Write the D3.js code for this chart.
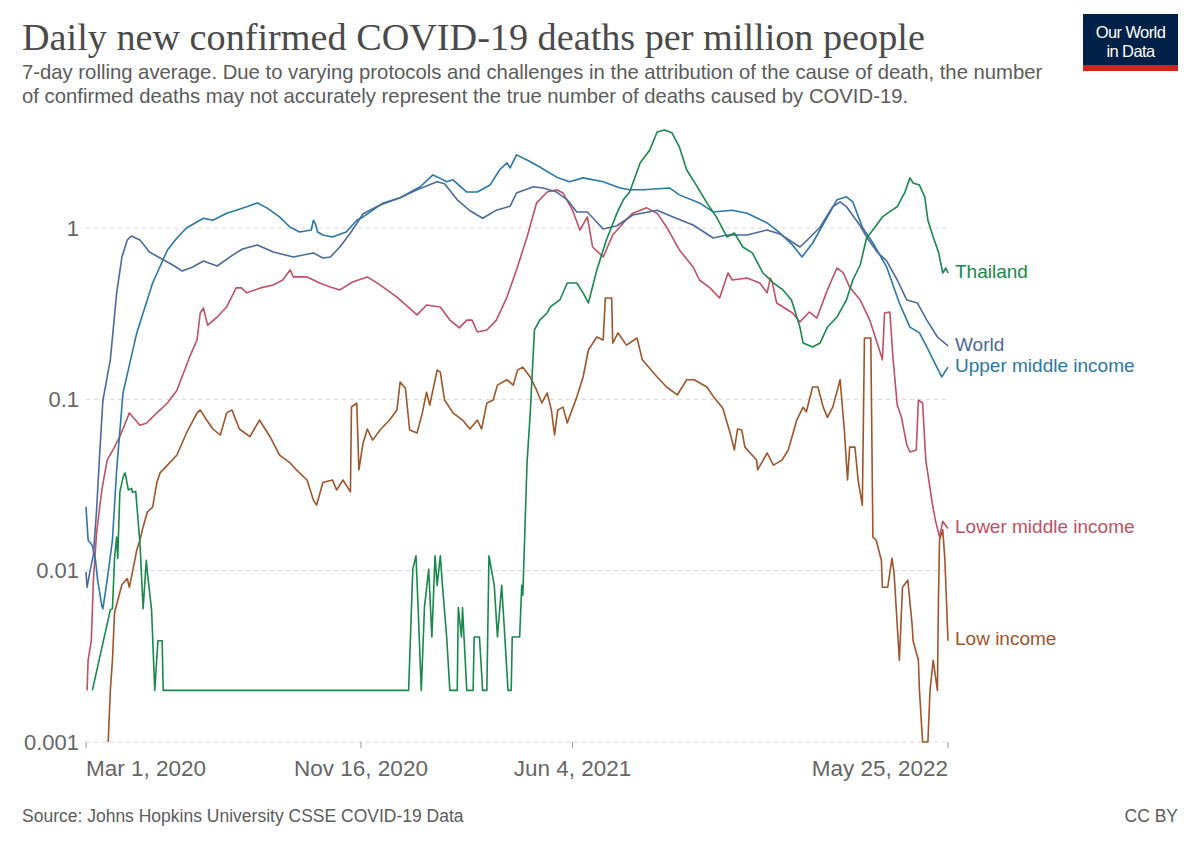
<!DOCTYPE html>
<html><head><meta charset="utf-8">
<script src="https://cdn.jsdelivr.net/npm/d3@7"></script>
<style>
body{margin:0;background:#fff}
svg text{font-family:"Liberation Sans",Arial,sans-serif}
</style>
</head><body>
<svg id="chart" width="1200" height="847"></svg>
<script>
const seriesNames = ["Thailand","World","Upper middle income","Lower middle income","Low income"];

const worldData = [["2020-03-01",0.0098],["2020-03-02",0.0080],["2020-03-05",0.0101],["2020-03-08",0.0124],["2020-03-11",0.0226],["2020-03-14",0.049],["2020-03-17",0.099],["2020-03-24",0.170],["2020-03-30",0.418],["2020-04-04",0.677],["2020-04-09",0.851],["2020-04-13",0.898],["2020-04-21",0.851],["2020-04-30",0.724],["2020-05-10",0.668],["2020-05-22",0.608],["2020-05-31",0.561],["2020-06-10",0.592],["2020-06-20",0.642],["2020-07-03",0.600],["2020-07-18",0.696],["2020-07-27",0.754],["2020-08-10",0.796],["2020-08-25",0.724],["2020-09-13",0.677],["2020-10-02",0.715],["2020-10-11",0.668],["2020-10-18",0.677],["2020-10-27",0.774],["2020-11-06",0.935],["2020-11-18",1.21],["2020-12-04",1.36],["2020-12-23",1.50],["2021-01-08",1.67],["2021-01-27",1.86],["2021-02-03",1.81],["2021-02-15",1.46],["2021-02-27",1.26],["2021-03-11",1.14],["2021-03-24",1.27],["2021-04-06",1.34],["2021-04-12",1.60],["2021-04-28",1.74],["2021-05-07",1.71],["2021-05-20",1.62],["2021-05-30",1.46],["2021-06-08",1.24],["2021-06-18",1.24],["2021-07-03",0.987],["2021-07-16",1.03],["2021-07-31",1.19],["2021-08-23",1.27],["2021-09-07",1.16],["2021-09-26",1.04],["2021-10-15",0.874],["2021-10-28",0.910],["2021-11-16",0.910],["2021-12-05",0.973],["2021-12-17",0.923],["2022-01-05",0.774],["2022-01-12",0.851],["2022-01-24",1.01],["2022-02-05",1.33],["2022-02-12",1.42],["2022-02-18",1.33],["2022-03-03",1.03],["2022-03-09",0.886],["2022-03-19",0.724],["2022-03-28",0.642],["2022-04-07",0.497],["2022-04-16",0.380],["2022-04-26",0.365],["2022-05-05",0.290],["2022-05-15",0.231],["2022-05-25",0.205]];

const upperMiddleData = [["2020-03-01",0.0236],["2020-03-03",0.0151],["2020-03-07",0.014],["2020-03-10",0.0115],["2020-03-12",0.0088],["2020-03-16",0.0062],["2020-03-17",0.0060],["2020-03-21",0.0088],["2020-03-26",0.0151],["2020-03-30",0.0387],["2020-04-05",0.109],["2020-04-18",0.244],["2020-05-03",0.477],["2020-05-17",0.744],["2020-05-26",0.874],["2020-06-04",1.0],["2020-06-20",1.14],["2020-06-29",1.11],["2020-07-12",1.22],["2020-07-21",1.27],["2020-07-31",1.33],["2020-08-10",1.40],["2020-08-19",1.31],["2020-08-31",1.16],["2020-09-10",1.01],["2020-09-19",0.948],["2020-09-30",0.973],["2020-10-02",1.11],["2020-10-04",1.05],["2020-10-06",0.948],["2020-10-11",0.91],["2020-10-20",0.886],["2020-11-02",0.948],["2020-11-12",1.11],["2020-11-18",1.16],["2020-12-07",1.40],["2020-12-23",1.50],["2021-01-11",1.74],["2021-01-23",2.04],["2021-01-29",1.96],["2021-02-05",1.86],["2021-02-11",1.91],["2021-02-24",1.62],["2021-03-06",1.62],["2021-03-18",1.78],["2021-03-27",2.18],["2021-04-03",2.40],["2021-04-06",2.24],["2021-04-12",2.67],["2021-04-22",2.49],["2021-05-04",2.27],["2021-05-20",1.98],["2021-06-01",1.86],["2021-06-14",1.96],["2021-07-03",1.86],["2021-07-19",1.71],["2021-07-28",1.67],["2021-08-10",1.67],["2021-09-04",1.71],["2021-09-13",1.56],["2021-10-02",1.40],["2021-10-15",1.24],["2021-11-02",1.27],["2021-11-16",1.22],["2021-12-05",1.07],["2021-12-17",0.935],["2021-12-29",0.796],["2022-01-07",0.677],["2022-01-17",0.817],["2022-01-31",1.16],["2022-02-09",1.46],["2022-02-18",1.52],["2022-02-24",1.42],["2022-03-05",1.01],["2022-03-15",0.817],["2022-03-28",0.592],["2022-04-09",0.365],["2022-04-19",0.264],["2022-04-28",0.244],["2022-05-05",0.202],["2022-05-11",0.170],["2022-05-19",0.135],["2022-05-25",0.154]];

const lowerMiddleData = [["2020-03-02",0.0020],["2020-03-03",0.0030],["2020-03-06",0.0039],["2020-03-08",0.0088],["2020-03-11",0.0167],["2020-03-16",0.0296],["2020-03-21",0.0442],["2020-03-27",0.0514],["2020-04-02",0.0605],["2020-04-11",0.0833],["2020-04-21",0.0706],["2020-04-27",0.0725],["2020-05-07",0.0833],["2020-05-17",0.0952],["2020-05-26",0.113],["2020-06-07",0.177],["2020-06-14",0.222],["2020-06-17",0.319],["2020-06-20",0.341],["2020-06-24",0.271],["2020-07-03",0.302],["2020-07-12",0.346],["2020-07-21",0.447],["2020-07-26",0.447],["2020-07-31",0.418],["2020-08-13",0.447],["2020-08-25",0.465],["2020-09-03",0.497],["2020-09-10",0.569],["2020-09-13",0.518],["2020-09-26",0.518],["2020-10-08",0.477],["2020-10-18",0.452],["2020-10-27",0.435],["2020-11-08",0.484],["2020-11-22",0.518],["2020-12-04",0.465],["2020-12-20",0.395],["2021-01-08",0.311],["2021-01-17",0.355],["2021-01-30",0.346],["2021-02-08",0.290],["2021-02-17",0.261],["2021-02-24",0.290],["2021-03-01",0.290],["2021-03-06",0.247],["2021-03-15",0.254],["2021-03-24",0.290],["2021-04-03",0.395],["2021-04-12",0.569],["2021-04-22",0.886],["2021-05-01",1.40],["2021-05-11",1.62],["2021-05-20",1.67],["2021-05-26",1.60],["2021-06-04",1.27],["2021-06-11",0.973],["2021-06-18",1.16],["2021-06-23",0.774],["2021-07-03",0.677],["2021-07-12",0.910],["2021-07-22",1.07],["2021-07-31",1.22],["2021-08-13",1.31],["2021-08-23",1.22],["2021-09-01",1.01],["2021-09-13",0.744],["2021-09-26",0.592],["2021-10-02",0.497],["2021-10-12",0.447],["2021-10-21",0.390],["2021-10-29",0.546],["2021-11-02",0.497],["2021-11-16",0.510],["2021-11-28",0.477],["2021-12-05",0.418],["2021-12-08",0.510],["2021-12-10",0.477],["2021-12-14",0.365],["2021-12-29",0.319],["2022-01-05",0.283],["2022-01-14",0.323],["2022-01-21",0.298],["2022-01-31",0.435],["2022-02-09",0.584],["2022-02-15",0.546],["2022-02-21",0.452],["2022-03-03",0.380],["2022-03-12",0.290],["2022-03-22",0.187],["2022-03-24",0.170],["2022-03-26",0.319],["2022-03-31",0.323],["2022-04-03",0.174],["2022-04-07",0.0925],["2022-04-11",0.0785],["2022-04-16",0.0543],["2022-04-19",0.0493],["2022-04-25",0.0506],["2022-04-27",0.099],["2022-05-01",0.0952],["2022-05-04",0.0442],["2022-05-10",0.0250],["2022-05-13",0.0198],["2022-05-17",0.0157],["2022-05-20",0.0194],["2022-05-25",0.0176]];

const lowIncomeData = [["2020-03-22",0.001],["2020-03-24",0.0020],["2020-03-26",0.0030],["2020-03-28",0.0057],["2020-03-31",0.0067],["2020-04-04",0.0083],["2020-04-09",0.0090],["2020-04-11",0.0080],["2020-04-13",0.0092],["2020-04-18",0.0132],["2020-04-21",0.0151],["2020-04-24",0.0180],["2020-04-28",0.0220],["2020-05-03",0.0235],["2020-05-07",0.0327],["2020-05-10",0.0372],["2020-05-17",0.0413],["2020-05-26",0.0473],["2020-06-04",0.0636],["2020-06-14",0.0833],["2020-06-17",0.0867],["2020-06-23",0.0757],["2020-06-29",0.0671],["2020-07-06",0.0619],["2020-07-12",0.0833],["2020-07-17",0.0867],["2020-07-24",0.0671],["2020-08-03",0.0605],["2020-08-12",0.0757],["2020-08-22",0.0605],["2020-08-31",0.0473],["2020-09-10",0.0425],["2020-09-16",0.0387],["2020-09-26",0.0338],["2020-10-02",0.0258],["2020-10-05",0.0241],["2020-10-11",0.0327],["2020-10-20",0.0338],["2020-10-24",0.0296],["2020-10-30",0.0338],["2020-11-06",0.0288],["2020-11-07",0.0902],["2020-11-12",0.095],["2020-11-14",0.0387],["2020-11-18",0.0556],["2020-11-22",0.0671],["2020-11-27",0.0578],["2020-12-04",0.0662],["2020-12-13",0.0757],["2020-12-20",0.0867],["2020-12-23",0.126],["2020-12-28",0.116],["2021-01-01",0.0662],["2021-01-08",0.0636],["2021-01-13",0.0833],["2021-01-17",0.110],["2021-01-20",0.0925],["2021-01-27",0.148],["2021-01-30",0.144],["2021-02-03",0.099],["2021-02-11",0.0833],["2021-02-20",0.0757],["2021-02-27",0.0671],["2021-03-06",0.0757],["2021-03-10",0.0671],["2021-03-15",0.0952],["2021-03-21",0.099],["2021-03-25",0.121],["2021-04-03",0.130],["2021-04-09",0.121],["2021-04-13",0.148],["2021-04-18",0.154],["2021-04-25",0.135],["2021-05-01",0.113],["2021-05-06",0.0952],["2021-05-11",0.109],["2021-05-15",0.0867],["2021-05-18",0.0619],["2021-05-21",0.0867],["2021-05-26",0.090],["2021-05-30",0.0727],["2021-06-08",0.103],["2021-06-14",0.135],["2021-06-19",0.194],["2021-06-27",0.231],["2021-07-03",0.222],["2021-07-05",0.390],["2021-07-11",0.390],["2021-07-12",0.213],["2021-07-17",0.244],["2021-07-25",0.207],["2021-08-04",0.228],["2021-08-09",0.170],["2021-08-23",0.135],["2021-09-01",0.118],["2021-09-11",0.106],["2021-09-20",0.130],["2021-09-27",0.130],["2021-10-09",0.118],["2021-10-16",0.102],["2021-10-24",0.089],["2021-10-31",0.0636],["2021-11-04",0.0506],["2021-11-07",0.0671],["2021-11-11",0.0662],["2021-11-14",0.0526],["2021-11-25",0.0442],["2021-11-26",0.0387],["2021-12-05",0.0486],["2021-12-11",0.0413],["2021-12-19",0.0442],["2021-12-25",0.0506],["2022-01-02",0.0757],["2022-01-08",0.090],["2022-01-11",0.0844],["2022-01-17",0.118],["2022-01-22",0.118],["2022-01-27",0.090],["2022-01-31",0.0785],["2022-02-05",0.090],["2022-02-12",0.130],["2022-02-16",0.0662],["2022-02-19",0.0338],["2022-02-21",0.0526],["2022-02-26",0.0526],["2022-03-01",0.0338],["2022-03-05",0.0241],["2022-03-07",0.228],["2022-03-13",0.228],["2022-03-15",0.0157],["2022-03-18",0.0151],["2022-03-23",0.0115],["2022-03-24",0.0080],["2022-03-29",0.0080],["2022-04-02",0.0118],["2022-04-04",0.0097],["2022-04-09",0.0030],["2022-04-12",0.0080],["2022-04-17",0.0088],["2022-04-21",0.0049],["2022-04-22",0.0039],["2022-04-27",0.0030],["2022-04-28",0.0020],["2022-05-01",0.001],["2022-05-06",0.001],["2022-05-08",0.0020],["2022-05-11",0.0030],["2022-05-15",0.0020],["2022-05-16",0.0070],["2022-05-17",0.0151],["2022-05-20",0.0173],["2022-05-22",0.0118],["2022-05-25",0.0039]];

const thailandData = [["2020-03-07",0.0020],["2020-03-24",0.0059],["2020-03-26",0.0060],["2020-03-28",0.0118],["2020-03-30",0.0157],["2020-03-31",0.0118],["2020-04-02",0.0287],["2020-04-05",0.0350],["2020-04-07",0.0372],["2020-04-10",0.0296],["2020-04-13",0.0302],["2020-04-14",0.0287],["2020-04-17",0.0290],["2020-04-21",0.0145],["2020-04-24",0.0060],["2020-04-27",0.0115],["2020-04-28",0.0098],["2020-05-02",0.0059],["2020-05-05",0.0020],["2020-05-08",0.0039],["2020-05-12",0.0039],["2020-05-13",0.0020],["2020-12-31",0.0020],["2021-01-04",0.0102],["2021-01-07",0.0122],["2021-01-09",0.0061],["2021-01-12",0.0020],["2021-01-15",0.0061],["2021-01-19",0.0102],["2021-01-22",0.0041],["2021-01-25",0.0122],["2021-01-27",0.0082],["2021-01-30",0.0122],["2021-02-01",0.0082],["2021-02-05",0.0041],["2021-02-08",0.0020],["2021-02-15",0.0020],["2021-02-16",0.0061],["2021-02-19",0.0041],["2021-02-20",0.0061],["2021-02-24",0.0020],["2021-03-02",0.0020],["2021-03-03",0.0041],["2021-03-08",0.0041],["2021-03-11",0.0020],["2021-03-15",0.0020],["2021-03-17",0.0122],["2021-03-22",0.0082],["2021-03-25",0.0041],["2021-03-29",0.0082],["2021-04-01",0.0041],["2021-04-04",0.0020],["2021-04-07",0.0020],["2021-04-08",0.0041],["2021-04-15",0.0041],["2021-04-17",0.0082],["2021-04-18",0.0072],["2021-04-22",0.0426],["2021-04-25",0.083],["2021-04-29",0.254],["2021-05-04",0.290],["2021-05-11",0.319],["2021-05-14",0.346],["2021-05-23",0.380],["2021-05-30",0.477],["2021-06-08",0.477],["2021-06-14",0.418],["2021-06-19",0.365],["2021-06-27",0.569],["2021-07-06",0.851],["2021-07-16",1.22],["2021-07-22",1.46],["2021-07-28",1.62],["2021-08-07",2.40],["2021-08-16",2.85],["2021-08-23",3.63],["2021-08-30",3.73],["2021-09-06",3.59],["2021-09-13",2.97],["2021-09-20",2.18],["2021-09-29",1.78],["2021-10-09",1.40],["2021-10-18",1.16],["2021-10-28",0.886],["2021-11-04",0.935],["2021-11-12",0.774],["2021-11-21",0.715],["2021-12-01",0.546],["2021-12-05",0.518],["2021-12-11",0.477],["2021-12-20",0.435],["2021-12-28",0.380],["2022-01-05",0.264],["2022-01-08",0.213],["2022-01-17",0.202],["2022-01-24",0.213],["2022-01-31",0.264],["2022-02-09",0.302],["2022-02-18",0.380],["2022-02-24",0.497],["2022-03-03",0.608],["2022-03-09",0.874],["2022-03-15",0.973],["2022-03-24",1.16],["2022-04-02",1.27],["2022-04-07",1.33],["2022-04-14",1.60],["2022-04-19",1.96],["2022-04-22",1.83],["2022-04-28",1.78],["2022-05-03",1.52],["2022-05-06",1.11],["2022-05-11",0.886],["2022-05-16",0.724],["2022-05-20",0.546],["2022-05-23",0.584],["2022-05-25",0.546]];

const yTickValues = [0.001, 0.01, 0.1, 1];
const yTickLabels = ["0.001", "0.01", "0.1", "1"];
const xTickDates = ["2020-03-01", "2020-11-16", "2021-06-04", "2022-05-25"];
const xTickLabels = ["Mar 1, 2020", "Nov 16, 2020", "Jun 4, 2021", "May 25, 2022"];

const colors = {"Thailand":"#18894a","World":"#4c6a9c","Upper middle income":"#2a78a8","Lower middle income":"#c15065","Low income":"#a0542a"};
const seriesData = {"Thailand":thailandData,"World":worldData,"Upper middle income":upperMiddleData,"Lower middle income":lowerMiddleData,"Low income":lowIncomeData};

const parse = d3.timeParse("%Y-%m-%d");
const svg = d3.select("#chart");

const allVals = seriesNames.flatMap(n => seriesData[n].map(d => d[1]));
const x = d3.scaleTime().domain([parse(xTickDates[0]), parse(xTickDates[xTickDates.length-1])]).range([86, 948]);
const y = d3.scaleLog().domain([0.001, d3.max(allVals)]).range([742, 130]).clamp(true);

// Title
const title = svg.append("text").attr("x", 22).attr("y", 50)
  .style("font-family", "'Liberation Serif','Times New Roman',serif")
  .style("font-size", "38px").attr("fill", "#4a4a4a")
  .text("Daily new confirmed COVID-19 deaths per million people");
const tw = title.node().getComputedTextLength();
title.style("font-size", (38 * 903 / tw).toFixed(2) + "px");

const subLines = ["7-day rolling average. Due to varying protocols and challenges in the attribution of the cause of death, the number",
  "of confirmed deaths may not accurately represent the true number of deaths caused by COVID-19."];
const s1 = svg.append("text").attr("x", 22).attr("y", 79).style("font-size", "17.5px").attr("fill", "#5b5b5b").text(subLines[0]);
const sw = s1.node().getComputedTextLength();
const subSize = 17.5 * 1021 / sw;
s1.style("font-size", subSize.toFixed(2) + "px");
svg.append("text").attr("x", 22).attr("y", 103).style("font-size", subSize.toFixed(2) + "px").attr("fill", "#5b5b5b").text(subLines[1]);

// Logo
const logo = svg.append("g");
logo.append("rect").attr("x", 1083).attr("y", 14).attr("width", 95).attr("height", 57).attr("fill", "#002147");
logo.append("rect").attr("x", 1083).attr("y", 65).attr("width", 95).attr("height", 6).attr("fill", "#ce261e");
logo.append("text").attr("x", 1130.5).attr("y", 38).attr("text-anchor", "middle").attr("fill", "#fff").style("font-size", "16.5px").style("letter-spacing", "-0.6px").text("Our World");
logo.append("text").attr("x", 1130.5).attr("y", 57).attr("text-anchor", "middle").attr("fill", "#fff").style("font-size", "16.5px").style("letter-spacing", "-0.6px").text("in Data");

// Grid + y labels
const grid = svg.append("g");
yTickValues.forEach((v, i) => {
  grid.append("line").attr("x1", 86).attr("x2", 948).attr("y1", y(v)).attr("y2", y(v))
    .attr("stroke", "#d8d8d8").attr("stroke-dasharray", "4,4");
  grid.append("text").attr("x", 79).attr("y", y(v)).attr("dy", "0.35em").attr("text-anchor", "end")
    .attr("fill", "#666").style("font-size", "22px").text(yTickLabels[i]);
});

// x axis ticks
xTickDates.forEach((d, i) => {
  const px = x(parse(d));
  svg.append("line").attr("x1", px).attr("x2", px).attr("y1", 742).attr("y2", 748).attr("stroke", "#999");
  const anchor = i === 0 ? "start" : (i === xTickDates.length - 1 ? "end" : "middle");
  svg.append("text").attr("x", px).attr("y", 776).attr("text-anchor", anchor)
    .attr("fill", "#666").style("font-size", "22.5px").text(xTickLabels[i]);
});

// Lines
const line = d3.line().x(d => x(parse(d[0]))).y(d => y(d[1]));
const drawOrder = ["Low income","Lower middle income","Upper middle income","World","Thailand"];
drawOrder.forEach(n => {
  svg.append("path").datum(seriesData[n]).attr("d", line)
    .attr("fill", "none").attr("stroke", colors[n]).attr("stroke-width", 1.6)
    .attr("stroke-linejoin", "round");
});

// End labels with simple collision avoidance
const labels = seriesNames.map(n => {
  const arr = seriesData[n];
  return {name: n, y: y(arr[arr.length - 1][1]) - 2};
}).sort((a, b) => a.y - b.y);
const gap = 21;
for (let k = 0; k < 20; k++) {
  for (let i = 1; i < labels.length; i++) {
    const diff = labels[i].y - labels[i-1].y;
    if (diff < gap) { const m = (gap - diff) / 2; labels[i].y += m; labels[i-1].y -= m; }
  }
}
labels.forEach(l => {
  svg.append("text").attr("x", 955).attr("y", l.y).attr("dy", "0.35em")
    .attr("fill", colors[l.name]).style("font-size", "19px").text(l.name);
});

// Footer
svg.append("text").attr("x", 22).attr("y", 822).attr("fill", "#5b5b5b").style("font-size", "17.5px")
  .text("Source: Johns Hopkins University CSSE COVID-19 Data");
svg.append("text").attr("x", 1178).attr("y", 822).attr("text-anchor", "end").attr("fill", "#5b5b5b").style("font-size", "17.5px")
  .text("CC BY");
</script>
</body></html>
